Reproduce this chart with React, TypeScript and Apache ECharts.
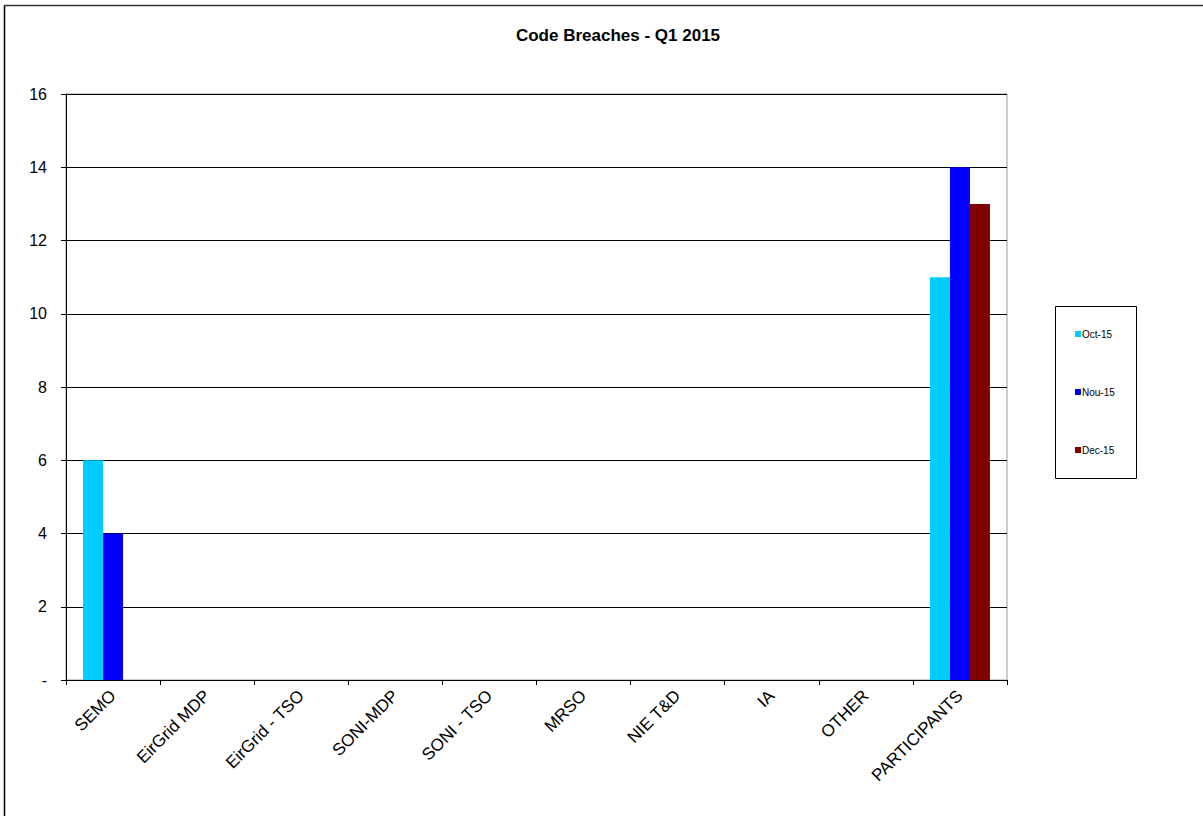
import React, { useEffect, useRef } from "react";
import * as echarts from "echarts";

const categories = [
  "SEMO",
  "EirGrid MDP",
  "EirGrid - TSO",
  "SONI-MDP",
  "SONI - TSO",
  "MRSO",
  "NIE T&D",
  "IA",
  "OTHER",
  "PARTICIPANTS",
];
const seriesNames = ["Oct-15", "Nou-15", "Dec-15"];
const oct15 = [6, 0, 0, 0, 0, 0, 0, 0, 0, 11];
const nov15 = [4, 0, 0, 0, 0, 0, 0, 0, 0, 14];
const dec15 = [0, 0, 0, 0, 0, 0, 0, 0, 0, 13];
const seriesColors = ["#00CCFF", "#0000FF", "#800000"];

export default function App() {
  const ref = useRef<HTMLDivElement>(null);

  useEffect(() => {
    if (!ref.current) return;
    const chart = echarts.init(ref.current, null, { renderer: "svg" });
    const values = [oct15, nov15, dec15];
    chart.setOption({
      animation: false,
      backgroundColor: "#ffffff",
      textStyle: { fontFamily: "Arial, 'Liberation Sans', sans-serif" },
      title: {
        text: "Code Breaches - Q1 2015",
        left: 613,
        textAlign: "center",
        top: 22,
        textStyle: {
          fontSize: 17,
          fontWeight: "bold",
          color: "#000",
          fontFamily: "Arial, 'Liberation Sans', sans-serif",
        },
      },
      legend: {
        orient: "vertical",
        left: 1070,
        top: 324,
        itemWidth: 6,
        itemHeight: 6,
        itemGap: 48,
        icon: "rect",
        data: seriesNames,
        textStyle: { fontSize: 10, color: "#000", padding: [0, 0, 0, -4] },
      },
      grid: {
        left: 66,
        top: 94,
        width: 941,
        height: 586,
        show: true,
        borderColor: "#999999",
        borderWidth: 1,
        backgroundColor: "transparent",
      },
      xAxis: {
        type: "category",
        data: categories,
        axisLine: { lineStyle: { color: "#000", width: 1 } },
        axisTick: { show: true, alignWithLabel: false, length: 5, lineStyle: { color: "#000" } },
        axisLabel: {
          interval: 0,
          rotate: 45,
          fontSize: 17,
          color: "#000",
          margin: 13,
        },
      },
      yAxis: {
        type: "value",
        min: 0,
        max: 16,
        interval: 2,
        axisLine: { show: true, lineStyle: { color: "#000", width: 1 } },
        axisTick: { show: true, length: 5, lineStyle: { color: "#000" } },
        splitLine: { show: true, lineStyle: { color: "#000", width: 1 } },
        axisLabel: {
          fontSize: 16,
          color: "#000",
          margin: 19,
          formatter: (v: number) => (v === 0 ? "-" : String(v)),
        },
      },
      series: seriesNames.map((name, i) => ({
        name,
        type: "bar",
        data: values[i],
        barWidth: 20,
        barGap: "0%",
        itemStyle: { color: seriesColors[i] },
      })),
      graphic: [
        {
          type: "line",
          shape: { x1: 4.5, y1: 5, x2: 4.5, y2: 816 },
          style: { stroke: "#000", lineWidth: 1.5 },
        },
        {
          type: "line",
          shape: { x1: 4, y1: 5.5, x2: 1203, y2: 5.5 },
          style: { stroke: "#333", lineWidth: 1.5 },
        },
        {
          type: "rect",
          shape: { x: 1055.5, y: 306.5, width: 81, height: 172 },
          style: { fill: "none", stroke: "#000", lineWidth: 1 },
          z: -1,
        },
      ],
    });
    return () => chart.dispose();
  }, []);

  return (
    <div
      ref={ref}
      style={{ position: "absolute", left: 0, top: 0, width: 1203, height: 816 }}
    />
  );
}
